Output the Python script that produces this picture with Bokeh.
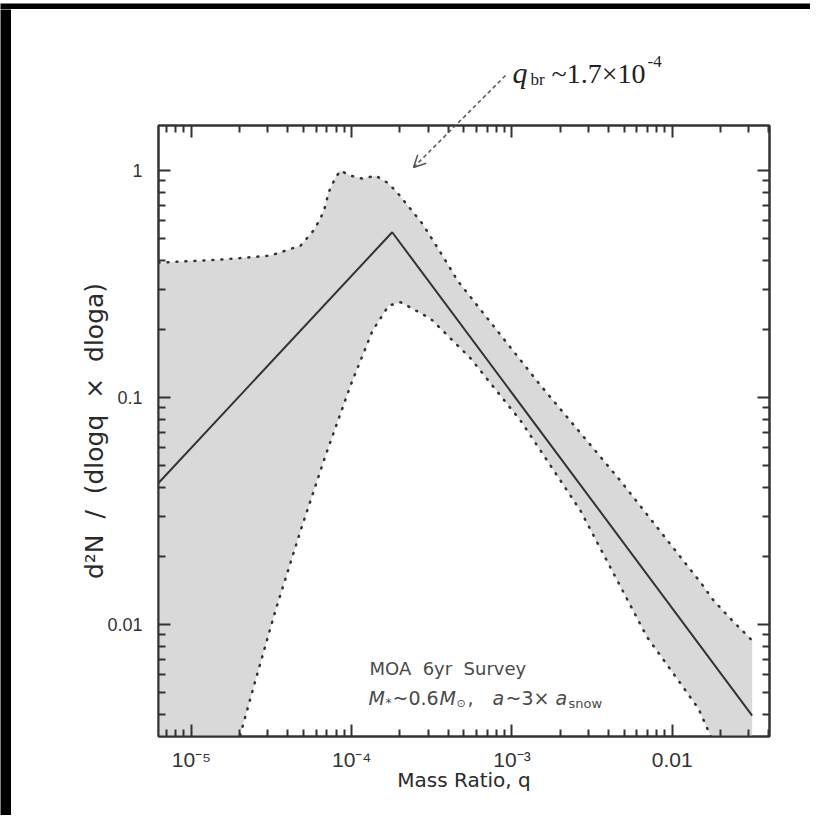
import math
from bokeh.plotting import figure
from bokeh.models import (LogAxis, FixedTicker, CustomJSTickFormatter, Label,
                          Arrow, OpenHead, Range1d)
from bokeh.layouts import column, row
from bokeh.core.properties import value
from bokeh.embed import file_html
from bokeh.resources import INLINE

# ---------------- data ----------------
line_q = [6.24e-6, 1.79e-4, 0.0315]
line_n = [0.042, 0.535, 0.00397]

upper_q = [6.24e-6, 1.52e-5, 3.11e-5, 4.80e-5, 5.78e-5, 6.39e-5, 6.87e-5, 7.17e-5,
           7.93e-5, 8.51e-5, 9.83e-5, 1.17e-4, 1.41e-4, 1.67e-4, 1.93e-4, 2.16e-4,
           2.43e-4, 2.76e-4, 3.43e-4, 4.13e-4, 4.57e-4, 1.51e-3, 4.75e-3, 0.01536,
           0.0181, 0.0237, 0.0315]
upper_n = [0.393, 0.405, 0.422, 0.467, 0.544, 0.615, 0.701, 0.80, 0.931, 1.0, 0.95,
           0.922, 0.95, 0.885, 0.80, 0.723, 0.653, 0.584, 0.458, 0.370, 0.328, 0.113,
           0.043, 0.0150, 0.01276, 0.0104, 0.0085]

lower_q = [6.24e-6, 1.9e-5, 2.51e-5, 3.35e-5, 4.80e-5, 6.87e-5, 9.84e-5, 1.35e-4,
           1.70e-4, 2.02e-4, 3.10e-4, 5.51e-4, 1.13e-3, 2.67e-3, 6.97e-3, 0.01016,
           0.01456, 0.0173, 0.0195, 0.0315]
lower_n = [1e-5, 0.0028, 0.00566, 0.01153, 0.0259, 0.0555, 0.113, 0.197, 0.254, 0.263,
           0.223, 0.149, 0.0792, 0.0318, 0.00879, 0.00608, 0.00426, 0.00324, 0.0025,
           0.0005]

x_tick_vals = [1e-5, 1e-4, 1e-3, 1e-2]
x_tick_labels = ["10\u207b\u2075", "10\u207b\u2074", "10\u207b\u00b3", "0.01"]
y_tick_vals = [0.01, 0.1, 1.0]
y_tick_labels = ["0.01", "0.1", "1"]

x_lo, x_hi = 6.24e-6, 0.0404
y_lo, y_hi = 0.00321, 1.58

# ---------------- layout ----------------
STRIP_T, STRIP_L = 9, 11          # dark strips along the top and left edges
CW = 799                          # content width
TOP_H = 114                       # panel above the frame (annotation)
MAIN_H = 692
BL, BT = 147, 2
FW = FH = 611
BR = CW - BL - FW
BB = MAIN_H - BT - FH
FL = STRIP_L + BL                 # page x of frame left
FT = STRIP_T + TOP_H + BT         # page y of frame top


def dx(px):
    a, b = math.log10(x_lo), math.log10(x_hi)
    return 10 ** (a + (px - FL) / FW * (b - a))


def dy(py):
    a, b = math.log10(y_lo), math.log10(y_hi)
    return 10 ** (b - (py - FT) / FH * (b - a))


def ty(py):  # page y -> y of the top panel
    return STRIP_T + TOP_H - py


p = figure(width=CW, height=MAIN_H, x_axis_type="log", y_axis_type="log",
           x_range=Range1d(x_lo, x_hi), y_range=Range1d(y_lo, y_hi),
           output_backend="svg", toolbar_location=None,
           min_border_left=BL, min_border_right=BR, min_border_top=BT,
           min_border_bottom=BB, background_fill_color="white",
           border_fill_color="white")
p.xgrid.visible = False
p.ygrid.visible = False
p.outline_line_color = "#333333"
p.outline_line_width = 2

xminor = [m * 10 ** d for d in range(-6, -1) for m in range(2, 10)]
yminor = [m * 10 ** d for d in range(-3, 1) for m in range(2, 10)]

fmt_code = """
const lt = Math.log10(tick);
for (let i = 0; i < vals.length; i++) {
  if (Math.abs(Math.log10(vals[i]) - lt) < 1e-6) return labs[i];
}
return "";
"""
xfmt = CustomJSTickFormatter(args=dict(vals=x_tick_vals, labs=x_tick_labels), code=fmt_code)
yfmt = CustomJSTickFormatter(args=dict(vals=y_tick_vals, labs=y_tick_labels), code=fmt_code)

xticker = FixedTicker(ticks=x_tick_vals, minor_ticks=xminor)
yticker = FixedTicker(ticks=y_tick_vals, minor_ticks=yminor)


def style_axis(ax):
    ax.major_tick_in = 12
    ax.major_tick_out = 0
    ax.minor_tick_in = 7
    ax.minor_tick_out = 0
    ax.major_tick_line_width = 2
    ax.minor_tick_line_width = 2
    ax.major_tick_line_color = "#333333"
    ax.minor_tick_line_color = "#333333"
    ax.axis_line_width = 2
    ax.axis_line_color = "#333333"


xb = p.xaxis[0]
yl = p.yaxis[0]
xb.ticker = xticker
xb.formatter = xfmt
yl.ticker = yticker
yl.formatter = yfmt
for ax in (xb, yl):
    style_axis(ax)
    ax.major_label_text_font = "Liberation Sans"
    ax.major_label_text_color = "#333333"
    ax.axis_label_text_font = "DejaVu Sans"
    ax.axis_label_text_font_style = "normal"
    ax.axis_label_text_color = "#2a2a2a"
xb.major_label_text_font_size = "21px"
yl.major_label_text_font_size = "18px"
xb.major_label_standoff = 11
yl.major_label_standoff = 16
xb.axis_label = "Mass Ratio, q"
xb.axis_label_text_font_size = "20px"
yl.axis_label = "d\u00b2N\u00a0 /\u00a0 (dlogq\u00a0 \u00d7\u00a0 dloga)"
yl.axis_label_text_font_size = "25px"
xb.axis_label_standoff = -6
yl.axis_label_standoff = -5

for loc, tk in (("above", xticker), ("right", yticker)):
    ax = LogAxis(ticker=tk, formatter=CustomJSTickFormatter(code="return '';"))
    style_axis(ax)
    ax.major_label_standoff = 0
    ax.major_label_text_font_size = "0px"
    p.add_layout(ax, loc)

# ---------------- band and line ----------------
band_x = upper_q + lower_q[::-1]
band_y = upper_n + lower_n[::-1]
p.patch(band_x, band_y, fill_color="#d9d9d9", line_color=None)
for bx, by in ((upper_q, upper_n), (lower_q, lower_n)):
    p.line(bx, by, line_color="#333333", line_width=2.5, line_dash="1 8",
           line_cap="round")
p.line(line_q, line_n, line_color="#333333", line_width=2)

# ---------------- annotations in the frame ----------------
sans = "DejaVu Sans"
serif = "Liberation Serif"
g = "#4a4a4a"


def lab(px, py, text, size, font, style="normal", color=g):
    p.add_layout(Label(x=dx(px), y=dy(py), text=text, text_font=font,
                       text_font_size=f"{size}px", text_font_style=style,
                       text_color=color, text_baseline="alphabetic",
                       text_align="left"))


lab(369, 668, "MOA\u00a0 6yr\u00a0 Survey", 18, sans)
lab(368, 697, "M", 19, sans, "italic")
lab(385, 702, "*", 12, sans)
lab(392, 697, "~0.6", 19, sans)
lab(439, 697, "M", 19, sans, "italic")
lab(456, 703, "\u2299", 11, sans)
lab(467, 697, ",", 19, sans)
lab(492, 697, "a", 19, sans, "italic")
lab(505, 697, "~3\u00d7", 19, sans)
lab(555, 697, "a", 19, sans, "italic")
lab(568, 703, "snow", 13, sans)

# arrow part inside the frame (clipped at the frame top)
p.add_layout(Arrow(end=OpenHead(size=12, line_width=1.5, line_color="#555555"),
                   x_start=dx(505), y_start=dy(75), x_end=dx(413), y_end=dy(167),
                   line_dash="4 3", line_width=1.5, line_color="#555555"))

# ---------------- panel above the frame ----------------
t = figure(width=CW, height=TOP_H, x_axis_type="log", x_range=p.x_range,
           y_range=Range1d(0, TOP_H), output_backend="svg", toolbar_location=None,
           min_border_left=BL, min_border_right=BR, min_border_top=0,
           min_border_bottom=0, x_axis_location=None, y_axis_location=None,
           outline_line_color=None, background_fill_color="white",
           border_fill_color="white")
t.xgrid.visible = False
t.ygrid.visible = False


def tlab(px, py, text, size, style="normal"):
    t.text(x=[dx(px)], y=[ty(py)], text=[text], text_font=value(serif),
           text_font_size=f"{size}px", text_font_style=style,
           text_color="#222222", text_baseline="alphabetic", text_align="left")


tlab(512, 72, "q", 30, "italic")
tlab(530, 79, "br", 17)
tlab(551, 73, "~1.7\u00d710", 28)
tlab(647, 61, "-4", 17)
t.line([dx(505), dx(413)], [ty(75), ty(167)], line_color="#555555",
       line_width=1.5, line_dash="4 3")


# ---------------- dark edge strips ----------------
def strip(w, h):
    s = figure(width=w, height=h, output_backend="svg", toolbar_location=None,
               min_border_left=0, min_border_right=0, min_border_top=0,
               min_border_bottom=0, x_axis_location=None, y_axis_location=None,
               outline_line_color=None, background_fill_color="black",
               border_fill_color="white")
    s.xgrid.visible = False
    s.ygrid.visible = False
    return s


top_strip = strip(STRIP_L + CW, STRIP_T)
left_strip = strip(STRIP_L, TOP_H + MAIN_H)
layout = column(top_strip, row(left_strip, column(t, p, spacing=0), spacing=0),
                spacing=0)

open("out.html", "w").write(file_html(layout, INLINE))
